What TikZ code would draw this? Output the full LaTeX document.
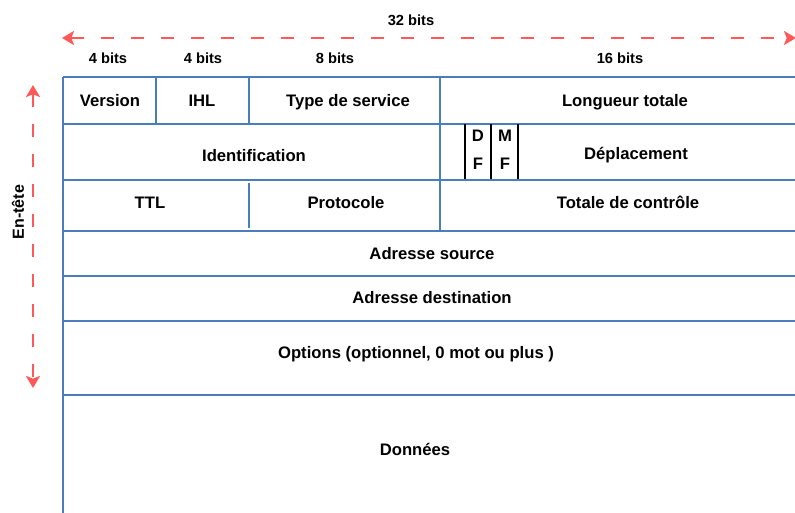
\documentclass[tikz,border=0pt]{standalone}
\usepackage{fontspec}
\setmainfont{Liberation Sans}
\usetikzlibrary{positioning}
\usetikzlibrary{calc}
\usetikzlibrary{arrows.meta}
\definecolor{grid colour}{RGB}{74,126,187}
\definecolor{arrow colour}{RGB}{255,88,88}
\tikzset{
    % A filled tip, close to the drawn one
    >={Stealth[length=9pt, width=10.5pt, inset=2pt]},
%
    % Lines of the header table
    grid lines/.style={draw=grid colour, line width=1.6pt},
    flag lines/.style={draw=black, line width=1.2pt},
    % Dashed span arrows
    span arrow/.style={draw=arrow colour, line width=1.6pt,
        dash pattern=on 9.75pt off 12.75pt, <->},
%
    % We almost always want centre aligned node text
    every node/.style={align=center},
}

\begin{document}
\begin{tikzpicture}[
    x=0.75pt, y=-0.75pt,
    field text/.style={anchor=base, inner sep=0,
        font=\bfseries\fontsize{12.5}{14}\selectfont},
    bits text/.style={anchor=base, inner sep=0,
        font=\bfseries\fontsize{11}{13}\selectfont},
]
\useasboundingbox (0,0) rectangle (795,512);
\clip (0,0) rectangle (795,512);

% Rows of the header, the table runs off the page
\foreach \yy in {77, 124, 180, 231, 276, 321, 395}
{
    \draw [grid lines] (63,\yy) -- (800,\yy);
}
\draw [grid lines] (63,77) -- (63,520);

% Column dividers
\foreach \xx/\ya/\yb in {156/77/124, 249/77/124, 440/77/231, 249/183/228}
{
    \draw [grid lines] (\xx,\ya) -- (\xx,\yb);
}
\foreach \xx in {465, 491, 518}
{
    \draw [flag lines] (\xx,124) -- (\xx,179);
}

% Field names
\node [field text] (version) at (110,106) {Version};
\node [field text] (ihl) at (202,106) {IHL};
\node [field text] (service) at (348,106) {Type de service};
\node [field text] (length) at (625,106) {Longueur totale};
\node [field text] (ident) at (254,161) {Identification};
\node [field text] (df top) at (478,141) {D};
\node [field text] (df bottom) at (478,169) {F};
\node [field text] (mf top) at (505,141) {M};
\node [field text] (mf bottom) at (505,169) {F};
\node [field text] (offset) at (636,159) {Déplacement};
\node [field text] (ttl) at (150,208) {TTL};
\node [field text] (protocol) at (346,208) {Protocole};
\node [field text] (checksum) at (628,208) {Totale de contrôle};
\node [field text] (source) at (432,259) {Adresse source};
\node [field text] (dest) at (432,303) {Adresse destination};
\node [field text] (options) at (416,358) {Options (optionnel, 0 mot ou plus )};
\node [field text] (data) at (415,455) {Données};

% Widths above the columns
\foreach \xx/\name/\txt in {108/four a/4, 203/four b/4, 335/eight/8, 620/sixteen/16}
{
    \node [bits text] (bits \name) at (\xx,63) {\txt\ bits};
}

% The two spans
\coordinate (span left) at (62,38);
\coordinate (span right) at (796,38);
\draw [span arrow] (span left) -- (span right);
\node [bits text] (bits total) at (411,25) {32 bits};

\coordinate (head top) at (33,85);
\coordinate (head bottom) at (33,388);
\draw [span arrow] (head top) -- (head bottom);
\node [rotate=90, inner sep=0, font=\bfseries\fontsize{12}{14}\selectfont]
    (header) at (18,212) {En-tête};

\end{tikzpicture}
\end{document}
